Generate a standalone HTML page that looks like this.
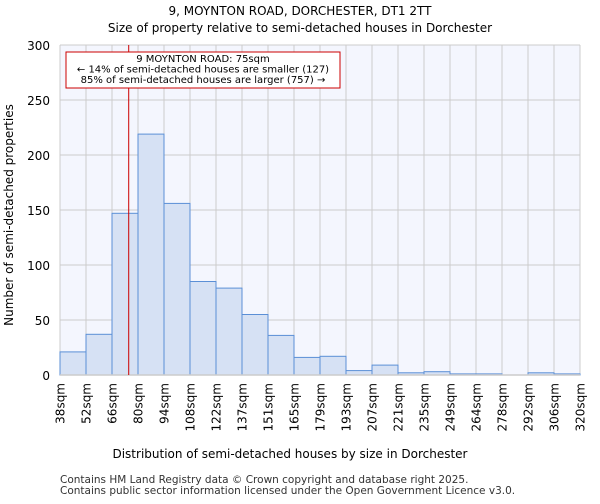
<!DOCTYPE html>
<html><head><meta charset="utf-8"><style>
body{margin:0;background:#fff;font-family:"DejaVu Sans","Liberation Sans",sans-serif}
</style></head><body>
<svg width="600" height="500" xmlns="http://www.w3.org/2000/svg" font-family="DejaVu Sans, Liberation Sans, sans-serif">
<text x="300" y="15" text-anchor="middle" font-size="12">9, MOYNTON ROAD, DORCHESTER, DT1 2TT</text>
<text x="300" y="32" text-anchor="middle" font-size="12">Size of property relative to semi-detached houses in Dorchester</text>
<rect x="60" y="45" width="520" height="330" fill="#f4f6fe"/>
<g id="grid"></g>
<g id="bars"></g>
<g id="axes"></g>
<text x="290" y="458" text-anchor="middle" font-size="12">Distribution of semi-detached houses by size in Dorchester</text>
<text transform="translate(13,215) rotate(-90)" text-anchor="middle" font-size="12">Number of semi-detached properties</text>
<text x="60" y="483" font-size="10.5" fill="#333">Contains HM Land Registry data © Crown copyright and database right 2025.</text>
<text x="60" y="494" font-size="10.5" fill="#333">Contains public sector information licensed under the Open Government Licence v3.0.</text>
</svg>
<script>
const tickLabels=["38sqm","52sqm","66sqm","80sqm","94sqm","108sqm","122sqm","137sqm","151sqm","165sqm","179sqm","193sqm","207sqm","221sqm","235sqm","249sqm","264sqm","278sqm","292sqm","306sqm","320sqm"];
const counts=[21,37,147,219,156,85,79,55,36,16,17,4,9,2,3,1,1,0,2,1];
const yTicks=[0,50,100,150,200,250,300];
const propertySize=75;
const NS="http://www.w3.org/2000/svg";
const x0=60,x1=580,y0=375,y1=45;
const binW=(x1-x0)/counts.length;
const xs=i=>x0+i*binW;
const ys=v=>y0-(v/300)*(y0-y1);
const xv=s=>x0+(s-38)/14*binW;
function mk(t,a,p){const e=document.createElementNS(NS,t);for(const k in a)e.setAttribute(k,a[k]);p.appendChild(e);return e;}
const grid=document.getElementById('grid'),bars=document.getElementById('bars'),axes=document.getElementById('axes');
yTicks.forEach(v=>{const l=mk('line',{x1:x0,x2:x1,y1:ys(v),y2:ys(v),stroke:'#cccccc','stroke-width':1},grid);


const t=mk('text',{x:x0-10,y:ys(v)+5,'text-anchor':'end','font-size':12},axes);t.textContent=v;

});
tickLabels.forEach((s,i)=>{const l=mk('line',{x1:xs(i),x2:xs(i),y1:y1,y2:y0,stroke:'#cccccc','stroke-width':1},grid);


const t=mk('text',{transform:`translate(${xs(i)+4.5},${y0+8}) rotate(-90)`,'text-anchor':'end','font-size':12},axes);t.textContent=s;

});
counts.forEach((v,i)=>{const r=mk('rect',{x:xs(i),y:ys(v),width:binW,height:y0-ys(v),fill:'#d6e1f4',stroke:'#5b8fd6','stroke-width':1},bars);

});
const ax=mk('line',{x1:x0,x2:x1,y1:y0,y2:y0,stroke:'#cccccc','stroke-width':1.5},axes);


const px=xv(propertySize);
const ml=mk('line',{x1:px,x2:px,y1:y1,y2:y0,stroke:'#cc0000','stroke-width':1},axes);


const g=mk('g',{},axes);


mk('rect',{x:66,y:52,width:274,height:36,fill:'#fff',stroke:'#cc0000','stroke-width':1},g);
["9 MOYNTON ROAD: 75sqm","← 14% of semi-detached houses are smaller (127)","85% of semi-detached houses are larger (757) →"].forEach((s,i)=>{const t=mk('text',{x:203,y:62+i*10.5,'text-anchor':'middle','font-size':10},g);t.textContent=s;

});
</script>
</body></html>
